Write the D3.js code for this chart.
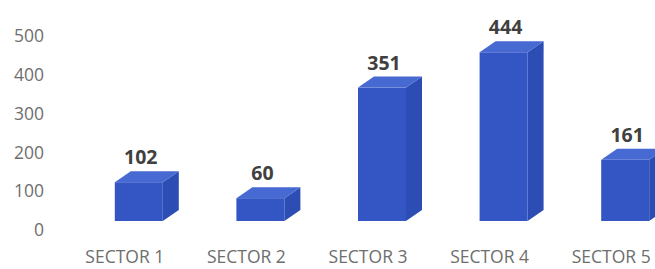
<!DOCTYPE html>
<html>
<head>
<meta charset="utf-8">
<script src="https://cdn.jsdelivr.net/npm/d3@7"></script>
<style>
  body { margin: 0; background: #fff; }
  svg { display: block; font-family: "Open Sans", sans-serif; }
</style>
</head>
<body>
<div id="chart"></div>
<script>
const categories = ["SECTOR 1", "SECTOR 2", "SECTOR 3", "SECTOR 4", "SECTOR 5"];
const values = [102, 60, 351, 444, 161];
const yTicks = [0, 100, 200, 300, 400, 500];

let width = 655,
    height = 269,
    barWidth = 48, // front face width
    barShift = -10, // front face left edge relative to category centre
    depthX = 16, // 3d depth offset
    depthY = 11,
    frontColor = "#3356c4",
    topColor = "#4669d2",
    sideColor = "#2c4db4",
    labelColor = "#404040",
    tickColor = "#6e6e6e";

// category axis and both value scales (axis labels sit on the back wall, bars on the floor in front)
const x = d3.scaleBand(categories, [64, 672]);
const yAxisScale = d3.scaleLinear([0, 500], [230, 36]);
const yBar = d3.scaleLinear([0, 500], [221, 31]);

const svg = d3.select("#chart")
    .append("svg")
    .attr("width", width)
    .attr("height", height)
    .attr("viewBox", [0, 0, width, height]);

svg.append("g")
    .attr("transform", "translate(44,0)")
    .call(d3.axisLeft(yAxisScale).tickValues(yTicks).tickSize(0).tickPadding(0))
    .call(g => g.select(".domain").remove())
    .call(g => g.selectAll("text")
        .attr("fill", tickColor)
        .attr("font-size", 17.5)
        .attr("font-family", "Open Sans, sans-serif"));

svg.append("g")
    .attr("transform", "translate(0,246)")
    .call(d3.axisBottom(x).tickSize(0).tickPadding(5))
    .call(g => g.select(".domain").remove())
    .call(g => g.selectAll("text")
        .attr("fill", tickColor)
        .attr("font-size", 17.5)
        .attr("font-family", "Open Sans, sans-serif"));

const I = d3.range(values.length);
const x0 = i => x(categories[i]) + x.bandwidth() / 2 + barShift;
const x1 = i => x0(i) + barWidth;

const bars = svg.append("g")
    .selectAll("g")
    .data(I)
    .join("g");

// side face
bars.append("polygon")
    .attr("fill", sideColor)
    .attr("points", i => [
        [x1(i), yBar(values[i])],
        [x1(i) + depthX, yBar(values[i]) - depthY],
        [x1(i) + depthX, yBar(0) - depthY],
        [x1(i), yBar(0)]
    ].join(" "));

// top face
bars.append("polygon")
    .attr("fill", topColor)
    .attr("points", i => [
        [x0(i), yBar(values[i])],
        [x0(i) + depthX, yBar(values[i]) - depthY],
        [x1(i) + depthX, yBar(values[i]) - depthY],
        [x1(i), yBar(values[i])]
    ].join(" "));

// front face
bars.append("rect")
    .attr("fill", frontColor)
    .attr("x", i => x0(i))
    .attr("y", i => yBar(values[i]))
    .attr("width", barWidth)
    .attr("height", i => yBar(0) - yBar(values[i]));

svg.append("g")
    .attr("fill", labelColor)
    .attr("font-weight", "bold")
    .attr("font-size", 19.5)
    .attr("text-anchor", "middle")
    .selectAll("text")
    .data(I)
    .join("text")
    .attr("x", i => x0(i) + barWidth / 2 + 2)
    .attr("y", i => yBar(values[i]) - depthY - 7)
    .text(i => values[i]);
</script>
</body>
</html>
